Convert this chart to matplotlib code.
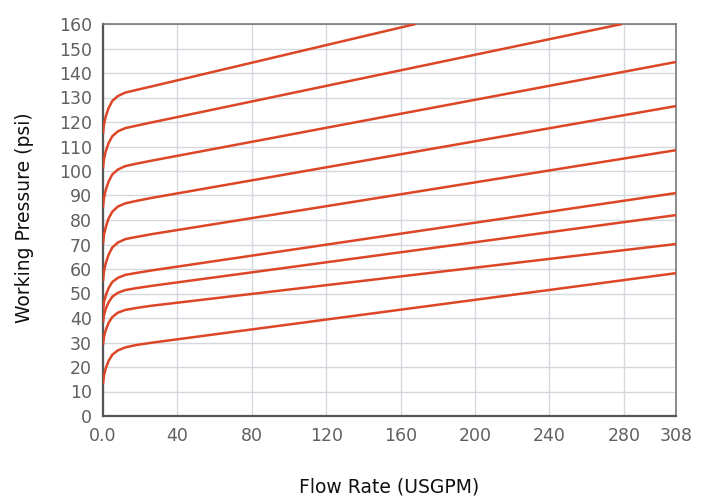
import matplotlib
matplotlib.use("Agg")
import matplotlib.pyplot as plt

# Flow rate points (USGPM) and working pressure (psi) for each curve
x_full = [0, 0.5, 1.5, 3, 5, 8, 12, 18, 26, 308]
curve1 = [13, 16.5, 19.5, 22.5, 25, 26.8, 28, 29, 29.9, 58.3]
curve2 = [29, 32.3, 35.1, 38, 40.4, 42.2, 43.3, 44.1, 45.0, 70.2]
curve3 = [38, 41.1, 43.8, 46.4, 48.7, 50.3, 51.4, 52.2, 53.1, 82]
curve4 = [43, 46.4, 49.3, 52.2, 54.7, 56.4, 57.6, 58.4, 59.4, 91]
curve5 = [55, 59, 62.4, 65.8, 68.8, 70.8, 72.2, 73.1, 74.2, 108.5]
curve6 = [70, 73.9, 77.2, 80.6, 83.4, 85.5, 86.8, 87.8, 89, 126.5]
curve7 = [85, 88.9, 92.3, 95.7, 98.6, 100.6, 102, 103, 104.2, 144.5]
x_c8 = [0, 0.5, 1.5, 3, 5, 8, 12, 18, 26, 279]
curve8 = [101, 104.8, 108.1, 111.4, 114.2, 116.2, 117.5, 118.5, 119.8, 160]
x_c9 = [0, 0.5, 1.5, 3, 5, 8, 12, 18, 26, 168]
curve9 = [115, 118.9, 122.3, 125.7, 128.6, 130.6, 132, 133.1, 134.5, 160]

x_ticks = [0, 40, 80, 120, 160, 200, 240, 280, 308]
x_tick_labels = ["0.0", "40", "80", "120", "160", "200", "240", "280", "308"]
y_ticks = list(range(0, 161, 10))

series = [(x_full, curve1), (x_full, curve2), (x_full, curve3), (x_full, curve4),
          (x_full, curve5), (x_full, curve6), (x_full, curve7), (x_c8, curve8), (x_c9, curve9)]

fig = plt.figure(figsize=(7.11, 4.99), dpi=100)
ax = fig.add_axes([103/711, 83/499, 573/711, 392/499])

for xs, ys in series:
    ax.plot(xs, ys, color="#dc4627", lw=1.8, solid_capstyle="butt",
            solid_joinstyle="round", zorder=3, clip_on=True)

ax.set_xlim(0, 308)
ax.set_ylim(0, 160)
ax.set_xticks(x_ticks)
ax.set_xticklabels(x_tick_labels)
ax.set_yticks(y_ticks)
ax.grid(True, color="#d5d8dc", lw=1.0)
ax.set_axisbelow(True)
ax.tick_params(length=0, labelsize=12.5, labelcolor="#606060")
ax.tick_params(axis="y", pad=8)
ax.tick_params(axis="x", pad=8)
for side in ["left", "bottom"]:
    ax.spines[side].set_color("#555555")
    ax.spines[side].set_linewidth(1.6)
for side in ["top", "right"]:
    ax.spines[side].set_color("#777777")
    ax.spines[side].set_linewidth(1.2)

fig.text(25/711, 1 - 218/499, "Working Pressure (psi)", rotation=90, ha="center", va="center",
         fontsize=13.5, color="#111111")
fig.text(389/711, 1 - 487/499, "Flow Rate (USGPM)", ha="center", va="center",
         fontsize=13.5, color="#111111")

fig.savefig("out.png", dpi=100)
